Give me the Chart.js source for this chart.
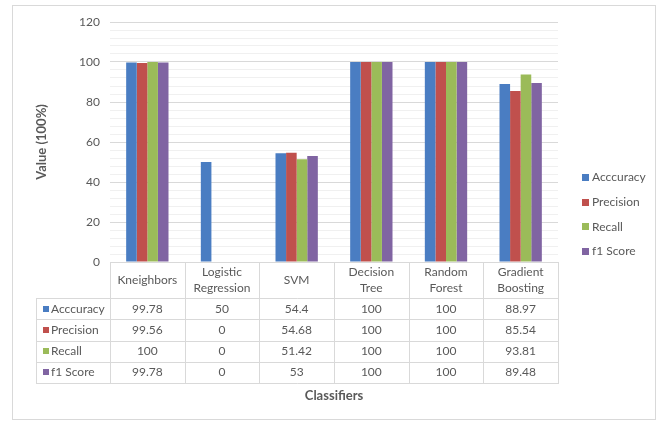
<!DOCTYPE html>
<html>
<head>
<meta charset="utf-8">
<script src="https://cdn.jsdelivr.net/npm/chart.js@4/dist/chart.umd.min.js"></script>
<style>
  html, body { margin: 0; padding: 0; background: #fff; }
  #wrap { width: 664px; height: 422px; position: relative; }
</style>
</head>
<body>
<div id="wrap"><canvas id="chart"></canvas></div>
<script>
// ── DATA ─────────────────────────────────────────────
const classifiers = [
  ["Kneighbors"],
  ["Logistic", "Regression"],
  ["SVM"],
  ["Decision", "Tree"],
  ["Random", "Forest"],
  ["Gradient", "Boosting"]
];
const seriesNames  = ["Acccuracy", "Precision", "Recall", "f1 Score"];
const seriesColors = ["#4A7DC2", "#C0504D", "#9BBB59", "#8064A2"];

const accuracy  = [99.78, 50, 54.4, 100, 100, 88.97];
const precision = [99.56, 0, 54.68, 100, 100, 85.54];
const recall    = [100, 0, 51.42, 100, 100, 93.81];
const f1Score   = [99.78, 0, 53, 100, 100, 89.48];
const seriesValues = [accuracy, precision, recall, f1Score];

const yTicks = [0, 20, 40, 60, 80, 100, 120];

// ── STYLE ────────────────────────────────────────────
const FONT     = "Lato, 'Open Sans', sans-serif";
const TEXT     = "#595959";
const GRID     = "#D9D9D9";
const GRID_MIN = "#F0F0F0";

// table + legend + frame, drawn around the chart area
const extrasPlugin = {
  id: "extras",
  beforeDraw(chart) {
    const ctx = chart.ctx;
    ctx.save();
    ctx.fillStyle = "#fff";
    ctx.fillRect(0, 0, chart.width, chart.height);
    ctx.strokeStyle = GRID;
    ctx.lineWidth = 1;
    ctx.strokeRect(12.5, 5.5, 643, 414);
    ctx.restore();
  },
  afterDraw(chart) {
    const ctx  = chart.ctx;
    const area = chart.chartArea;
    const n    = classifiers.length;
    const colW = (area.right - area.left) / n;
    const top  = area.bottom;
    const headH = 36, rowH = 21.25, tableLeft = 36.5;
    const bottom = top + headH + rowH * seriesNames.length;

    ctx.save();
    ctx.strokeStyle = GRID;
    ctx.lineWidth = 1;
    ctx.beginPath();
    // horizontal lines
    ctx.moveTo(area.left, Math.round(top) + 0.5);
    ctx.lineTo(area.right, Math.round(top) + 0.5);
    for (let r = 0; r <= seriesNames.length; r++) {
      const y = Math.round(top + headH + r * rowH) + 0.5;
      ctx.moveTo(tableLeft, y);
      ctx.lineTo(area.right, y);
    }
    // vertical lines
    ctx.moveTo(tableLeft, Math.round(top + headH));
    ctx.lineTo(tableLeft, Math.round(bottom) + 1);
    for (let i = 0; i <= n; i++) {
      const x = Math.round(area.left + i * colW) + 0.5;
      ctx.moveTo(x, Math.round(top));
      ctx.lineTo(x, Math.round(bottom) + 1);
    }
    ctx.stroke();

    // header text
    ctx.fillStyle = TEXT;
    ctx.font = "12px " + FONT;
    ctx.textAlign = "center";
    ctx.textBaseline = "middle";
    classifiers.forEach((lines, i) => {
      const cx = area.left + (i + 0.5) * colW;
      const cy = top + headH / 2;
      lines.forEach((t, k) => {
        ctx.fillText(t, cx, cy + (k - (lines.length - 1) / 2) * 16);
      });
    });

    // rows
    seriesNames.forEach((name, r) => {
      const cy = top + headH + (r + 0.5) * rowH;
      ctx.fillStyle = seriesColors[r];
      ctx.fillRect(43, Math.round(cy) - 3, 6, 6);
      ctx.fillStyle = TEXT;
      ctx.textAlign = "left";
      ctx.fillText(name, 51, cy);
      ctx.textAlign = "center";
      seriesValues[r].forEach((v, i) => {
        ctx.fillText(String(v), area.left + (i + 0.5) * colW, cy);
      });
    });

    // x title
    ctx.font = "bold 13px " + FONT;
    ctx.fillStyle = TEXT;
    ctx.fillText("Classifiers", (area.left + area.right) / 2, 396);

    // legend
    ctx.font = "12px " + FONT;
    ctx.textAlign = "left";
    seriesNames.forEach((name, r) => {
      const cy = 177 + r * 24.7;
      ctx.fillStyle = seriesColors[r];
      ctx.fillRect(582, Math.round(cy) - 3, 7, 7);
      ctx.fillStyle = TEXT;
      ctx.fillText(name, 592, cy + 0.5);
    });
    ctx.restore();
  }
};

new Chart(document.getElementById("chart"), {
  type: "bar",
  data: {
    labels: classifiers.map(c => c.join(" ")),
    datasets: seriesNames.map((name, i) => ({
      label: name,
      data: seriesValues[i],
      backgroundColor: seriesColors[i],
      borderWidth: 0,
      categoryPercentage: 0.567,
      barPercentage: 1.0
    }))
  },
  options: {
    responsive: true,
    maintainAspectRatio: false,
    animation: false,
    layout: { padding: { left: 0, right: 106, top: 22, bottom: 160 } },
    plugins: {
      legend: { display: false },
      tooltip: { enabled: false }
    },
    scales: {
      x: {
        grid: { display: false },
        border: { display: false },
        ticks: { display: false },
        afterFit: s => { s.height = 0; }
      },
      y: {
        min: yTicks[0],
        max: yTicks[yTicks.length - 1],
        afterFit: s => { s.width = 110; },
        border: { display: false },
        grid: {
          drawTicks: false,
          color: c => (c.tick && c.tick.value % 20 === 0) ? GRID : GRID_MIN
        },
        ticks: {
          stepSize: 4,
          autoSkip: false,
          padding: 10,
          color: TEXT,
          font: { family: FONT, size: 12 },
          callback: v => yTicks.includes(v) ? v : ""
        },
        title: {
          display: true,
          text: "Value (100%)",
          color: TEXT,
          font: { family: FONT, size: 13, weight: "bold" },
          padding: { top: 34, bottom: 0 }
        }
      }
    }
  },
  plugins: [extrasPlugin]
});
</script>
</body>
</html>
